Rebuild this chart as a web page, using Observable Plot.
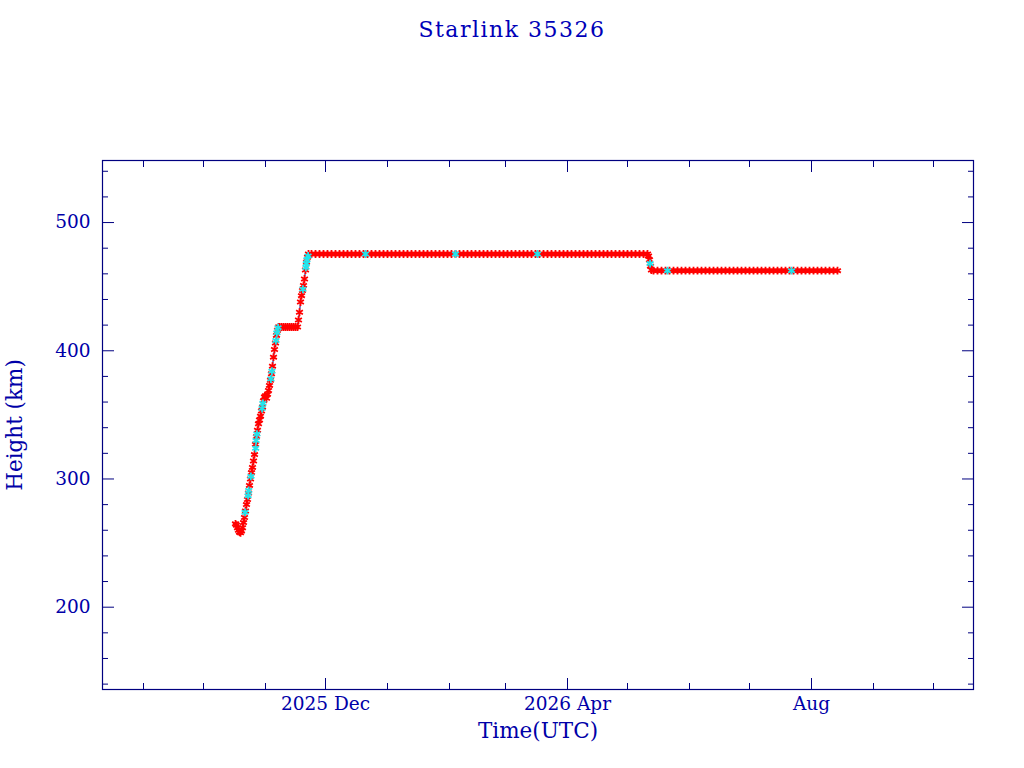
<!DOCTYPE html>
<html>
<head>
<meta charset="utf-8">
<script src="https://cdn.jsdelivr.net/npm/d3@7"></script>
<script src="https://cdn.jsdelivr.net/npm/@observablehq/plot@0.6"></script>
<style>
  html, body { margin: 0; padding: 0; background: #fff; }
  #title { width: 1024px; height: 60px; line-height: 60px; text-align: center;
           font-family: "DejaVu Serif", serif; font-size: 22px; letter-spacing: 1.5px; color: #0000b8; }
</style>
</head>
<body>
<div id="title">Starlink 35326</div>
<div id="chart"></div>
<script>
// ---- data ----
const ascentTimes = [
  "2025-10-17T00","2025-10-17T12","2025-10-18T00","2025-10-18T12","2025-10-19T00","2025-10-19T12",
  "2025-10-20T00","2025-10-20T12","2025-10-21T00","2025-10-21T12","2025-10-22T00","2025-10-22T12",
  "2025-10-23T00","2025-10-23T12","2025-10-24T00","2025-10-24T12","2025-10-25T00","2025-10-25T12",
  "2025-10-26T00","2025-10-26T12","2025-10-27T00","2025-10-27T12","2025-10-28T00","2025-10-28T12",
  "2025-10-29T00","2025-10-29T12","2025-10-30T00","2025-10-30T12","2025-10-31T00","2025-10-31T12",
  "2025-11-01T00","2025-11-01T12","2025-11-02T00","2025-11-02T12","2025-11-03T00","2025-11-03T12",
  "2025-11-04T00","2025-11-04T12","2025-11-05T00","2025-11-05T12","2025-11-06T00","2025-11-06T12",
  "2025-11-07T00","2025-11-07T12",
  "2025-11-08T00","2025-11-09T00","2025-11-10T00","2025-11-11T00","2025-11-12T00","2025-11-13T00",
  "2025-11-14T00","2025-11-15T00","2025-11-16T00","2025-11-17T00",
  "2025-11-17T12","2025-11-18T00","2025-11-18T12","2025-11-19T00","2025-11-19T12","2025-11-20T00",
  "2025-11-20T12","2025-11-21T00","2025-11-21T12","2025-11-22T00","2025-11-22T12"
];
const ascentHeights = [
  265, 264, 262, 260, 258.5, 258,
  259.5, 262, 266, 270, 275, 280,
  284, 289, 295, 300, 305, 309,
  314, 319, 327, 333, 338, 343,
  346, 349, 353, 356, 361, 364,
  365, 363, 366, 369, 373, 377,
  382, 388, 395, 401, 406, 412,
  416, 418.5,
  418.5, 418.5, 418.5, 418.5, 418.5, 418.5,
  418.5, 418.5, 418.5, 418.5,
  424, 430, 438, 443, 447, 451,
  456, 463, 469, 473, 475.5
];
// first plateau: readings every 2 days from 2025-11-24
const plateau1Start = "2025-11-24";
const plateau1Heights = [
  475.5,475.5,475.5,475.5,475.5,475.5,475.5,475.5,475.5,475.5,
  475.5,475.5,475.5,475.5,475.5,475.5,475.5,475.5,475.5,475.5,
  475.5,475.5,475.5,475.5,475.5,475.5,475.5,475.5,475.5,475.5,
  475.5,475.5,475.5,475.5,475.5,475.5,475.5,475.5,475.5,475.5,
  475.5,475.5,475.5,475.5,475.5,475.5,475.5,475.5,475.5,475.5,
  475.5,475.5,475.5,475.5,475.5,475.5,475.5,475.5,475.5,475.5,
  475.5,475.5,475.5,475.5,475.5,475.5,475.5,475.5,475.5,475.5,
  475.5,475.5,475.5,475.5,475.5,475.5,475.5,475.5,475.5,475.5,
  475.5,475.5,475.5,475.5
];
const dropTimes = ["2026-05-11T00","2026-05-11T12","2026-05-12T00","2026-05-12T12","2026-05-13T00"];
const dropHeights = [475.5, 474, 471, 466, 463];
// second plateau: readings every 2 days from 2026-05-14
const plateau2Start = "2026-05-14";
const plateau2Heights = [
  462.5,462.5,462.5,462.5,462.5,462.5,462.5,462.5,462.5,462.5,
  462.5,462.5,462.5,462.5,462.5,462.5,462.5,462.5,462.5,462.5,
  462.5,462.5,462.5,462.5,462.5,462.5,462.5,462.5,462.5,462.5,
  462.5,462.5,462.5,462.5,462.5,462.5,462.5,462.5,462.5,462.5,
  462.5,462.5,462.5,462.5,462.5,462.5,462.5
];
// second source (cyan)
const cyanTimes = [
  "2025-10-21T19","2025-10-23T07","2025-10-23T14","2025-10-24T17","2025-10-27T02","2025-10-27T07",
  "2025-10-27T17","2025-10-30T07","2025-10-30T17","2025-11-03T17","2025-11-04T05","2025-11-06T05",
  "2025-11-06T17","2025-11-07T07","2025-11-19T17","2025-11-21T05","2025-11-21T10","2025-11-21T17",
  "2025-11-22T07","2025-12-21T00","2026-02-04T00","2026-03-17T00","2026-05-12T07","2026-05-21T00",
  "2026-07-22T00"
];
const cyanHeights = [
  274, 287, 291, 302, 324, 330,
  335, 355, 359, 378, 384, 408,
  414, 418, 448, 465, 468, 471,
  474, 475.5, 475.5, 475.5, 468, 462.5,
  462.5
];
const majorTickDates = ["2025-12-01", "2026-04-01", "2026-08-01"];
const majorTickLabels = ["2025 Dec", "2026 Apr", "Aug"];
const yMajorTicks = [200, 300, 400, 500];
const yMinorTicks = [140, 160, 180, 220, 240, 260, 280, 320, 340, 360, 380, 420, 440, 460, 480, 520, 540];
const xDomain = ["2025-08-11T12", "2026-10-21T00"];
const yDomain = [135.8, 548.4];

// ---- build tables ----
const parse = s => new Date(s + (s.length <= 10 ? "T00:00Z" : ":00Z"));
const red = [];
ascentTimes.forEach((t, i) => red.push({t: parse(t), h: ascentHeights[i]}));
plateau1Heights.forEach((h, i) => red.push({t: d3.utcDay.offset(parse(plateau1Start), 2 * i), h}));
dropTimes.forEach((t, i) => red.push({t: parse(t), h: dropHeights[i]}));
plateau2Heights.forEach((h, i) => red.push({t: d3.utcDay.offset(parse(plateau2Start), 2 * i), h}));
const cyan = cyanTimes.map((t, i) => ({t: parse(t), h: cyanHeights[i]}));
const all = red.concat(cyan).sort((a, b) => a.t - b.t);

const majorDates = majorTickDates.map(parse);
const labelMap = new Map(majorDates.map((d, i) => [+d, majorTickLabels[i]]));
const minorDates = d3.utcMonth.range(parse("2025-09-01"), parse("2026-10-02"))
  .filter(d => !labelMap.has(+d));

const navy = "#000080";
const txt = "#0000a8";
const font = "DejaVu Serif, serif";
const blank = () => "";

const chart = Plot.plot({
  width: 1024,
  height: 708,
  marginLeft: 102,
  marginRight: 51,
  marginTop: 100,
  marginBottom: 79,
  style: {fontFamily: font, background: "#fff"},
  x: {type: "utc", domain: xDomain.map(parse), label: null},
  y: {domain: yDomain, label: null},
  marks: [
    Plot.frame({stroke: navy, strokeWidth: 1.2}),
    // inward ticks on all four sides
    Plot.axisX(minorDates, {anchor: "bottom", tickSize: -6, tickFormat: blank, stroke: navy}),
    Plot.axisX(minorDates, {anchor: "top", tickSize: -6, tickFormat: blank, stroke: navy}),
    Plot.axisX(majorDates, {anchor: "bottom", tickSize: -11, tickFormat: blank, stroke: navy}),
    Plot.axisX(majorDates, {anchor: "top", tickSize: -11, tickFormat: blank, stroke: navy}),
    Plot.axisY(yMinorTicks, {anchor: "left", tickSize: -6, tickFormat: blank, stroke: navy}),
    Plot.axisY(yMinorTicks, {anchor: "right", tickSize: -6, tickFormat: blank, stroke: navy}),
    Plot.axisY(yMajorTicks, {anchor: "left", tickSize: -12, tickFormat: blank, stroke: navy}),
    Plot.axisY(yMajorTicks, {anchor: "right", tickSize: -12, tickFormat: blank, stroke: navy}),
    // labels
    Plot.axisX(majorDates, {anchor: "bottom", tickSize: 0, tickPadding: 7, fontSize: 18.5, fill: txt,
      letterSpacing: 0.6, tickFormat: d => labelMap.get(+d)}),
    Plot.axisY(yMajorTicks, {anchor: "left", tickSize: 0, tickPadding: 12, fontSize: 18.5, fill: txt,
      letterSpacing: 0.6, tickFormat: d => String(d)}),
    Plot.text(["Height (km)"], {frameAnchor: "left", dx: -87, rotate: -90, text: d => d,
      textAnchor: "middle", fontSize: 21.5, letterSpacing: 2.2, fill: txt, fontFamily: font}),
    Plot.text(["Time(UTC)"], {frameAnchor: "bottom", dy: 48, text: d => d,
      fontSize: 21.5, letterSpacing: 0.4, fill: txt, fontFamily: font}),
    // data
    Plot.line(all, {x: "t", y: "h", stroke: navy, strokeWidth: 1}),
    Plot.dot(red, {x: "t", y: "h", symbol: "asterisk", r: 3.7, stroke: "#ff0000", strokeWidth: 1.8}),
    Plot.dot(cyan, {x: "t", y: "h", symbol: "asterisk", r: 3.7, stroke: "#22e4ec", strokeWidth: 1.8})
  ]
});
document.getElementById("chart").appendChild(chart);
</script>
</body>
</html>
